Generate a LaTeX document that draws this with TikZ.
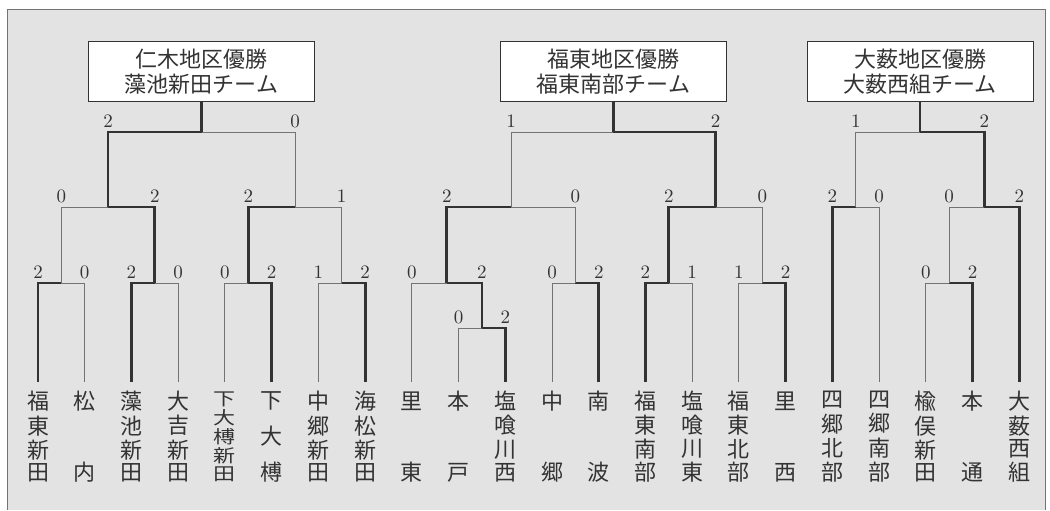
\documentclass[tikz,border=0pt]{standalone}
\usepackage{fontspec}
\usepackage{graphicx}
\usetikzlibrary{positioning}
\newfontfamily\jp{Noto Sans CJK JP}
\definecolor{paper}{rgb}{0.89, 0.89, 0.89}
\definecolor{inkgray}{rgb}{0.2, 0.2, 0.2}
\definecolor{linegray}{rgb}{0.45, 0.45, 0.45}
% vertical team name, characters spread over the same height
\newcommand{\tate}[2][1]{\vbox to 44.75pt{\offinterlineskip
  \foreach \kanji [count=\k] in #2 {\ifnum\k>1 \vfil\fi\hbox{\scalebox{1}[#1]{\kanji}}}}}
% one game: winner, loser, junction, scores
\newcommand{\bout}[5]{%
  \draw[lose] (#2) |- node[score] {#5} (#3);
  \draw[win] (#1) |- node[score] {#4} (#3);}

\begin{document}
\begin{tikzpicture}[x=0.5pt,y=-0.5pt,
    win/.style={line width=1.4pt,inkgray},
    lose/.style={line width=0.5pt,linegray},
    score/.style={above,inner sep=1.8pt,text=inkgray,font=\fontsize{9.5}{11}\selectfont},
    leaf/.style={anchor=north,inner xsep=0pt,inner ysep=4.5pt,text=inkgray,font=\jp\fontsize{11}{11}\selectfont},
    champ/.style={draw=inkgray,fill=white,line width=0.5pt,minimum width=113pt,minimum height=30pt,
      inner sep=0pt,align=center,text=inkgray,font=\jp\fontsize{11}{12.5}\selectfont}]
  \useasboundingbox (0,0) rectangle (1050,510);
  % Sheet
  \fill[paper] (7,9) rectangle (1045,510);
  \draw[linegray] (7,510) |- (1045,9) -- (1045,510);
  % Teams
  \foreach \nm/\sq [count=\i from 0] in {{福,東,新,田}/1,{松,内}/1,{藻,池,新,田}/1,{大,吉,新,田}/1,
      {下,大,榑,新,田}/0.81,{下,大,榑}/1,{中,郷,新,田}/1,{海,松,新,田}/1,{里,東}/1,{本,戸}/1,
      {塩,喰,川,西}/1,{中,郷}/1,{南,波}/1,{福,東,南,部}/1,{塩,喰,川,東}/1,{福,東,北,部}/1,
      {里,西}/1,{四,郷,北,部}/1,{四,郷,南,部}/1,{楡,俣,新,田}/1,{本,通}/1,{大,薮,西,組}/1}
    \node[leaf] (n\i) at ({38+46.73*\i},382) {\tate[\sq]{\nm}};
  % Junctions
  \foreach \j/\u/\v in {a1/0.5/283,a2/2.5/283,a3/4.5/283,a4/6.5/283,a5/1.5/207,a6/5.5/207,a7/3.5/132,
      c1/9.5/328,c2/8.75/283,c3/11.5/283,c4/13.5/283,c5/15.5/283,c6/10.125/207,c7/14.5/207,c8/12.3125/132,
      d1/17.5/207,d2/19.5/283,d3/20.25/207,d4/18.875/132}
    \coordinate (\j) at ({38+46.73*\u},\v);
  % Games
  \bout{n0}{n1}{a1}{2}{0}
  \bout{n2}{n3}{a2}{2}{0}
  \bout{n5}{n4}{a3}{2}{0}
  \bout{n7}{n6}{a4}{2}{1}
  \bout{a2}{a1}{a5}{2}{0}
  \bout{a3}{a4}{a6}{2}{1}
  \bout{a5}{a6}{a7}{2}{0}
  \bout{n10}{n9}{c1}{2}{0}
  \bout{c1}{n8}{c2}{2}{0}
  \bout{n12}{n11}{c3}{2}{0}
  \bout{n13}{n14}{c4}{2}{1}
  \bout{n16}{n15}{c5}{2}{1}
  \bout{c2}{c3}{c6}{2}{0}
  \bout{c4}{c5}{c7}{2}{0}
  \bout{c7}{c6}{c8}{2}{1}
  \bout{n17}{n18}{d1}{2}{0}
  \bout{n20}{n19}{d2}{2}{0}
  \bout{n21}{d2}{d3}{2}{0}
  \bout{d3}{d1}{d4}{2}{1}
  % Winners
  \node[champ,above=15pt of a7] (w1) {仁木地区優勝\\藻池新田チーム};
  \node[champ,above=15pt of c8] (w2) {福東地区優勝\\福東南部チーム};
  \node[champ,above=15pt of d4] (w3) {大薮地区優勝\\大薮西組チーム};
  \draw[win] (a7) -- (w1);
  \draw[win] (c8) -- (w2);
  \draw[win] (d4) -- (w3);
\end{tikzpicture}
\end{document}
